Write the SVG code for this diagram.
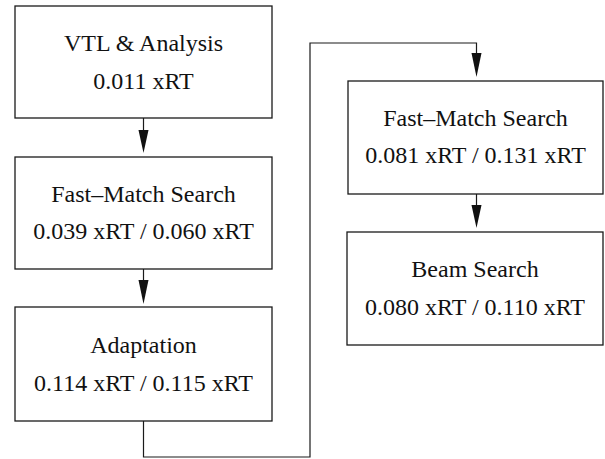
<svg xmlns="http://www.w3.org/2000/svg" width="605" height="459" viewBox="0 0 605 459">
<defs>
<style>
.box{fill:#fff;stroke:#1a1a1a;stroke-width:1.3}
.lbl{font-family:"Liberation Serif","Times New Roman",serif;font-size:24px;fill:#111;text-anchor:middle}
.con{fill:none;stroke:#1a1a1a;stroke-width:1.2}
.head{fill:#111}
</style>
</defs>
<rect width="605" height="459" fill="#fff"/>
<g id="connectors">
<path class="con" d="M143.5 118 V135"/>
<polygon class="head" points="138.5,130 148.5,130 143.5,153"/>
<path class="con" d="M143.5 269 V285"/>
<polygon class="head" points="138.5,280 148.5,280 143.5,304"/>
<path class="con" d="M143.5 421 V457 H310 V43 H476.5 V58"/>
<polygon class="head" points="471.5,53 481.5,53 476.5,77"/>
<path class="con" d="M476.5 194 V210"/>
<polygon class="head" points="471.5,205 481.5,205 476.5,228"/>
</g>
<g id="n1">
<rect class="box" x="15" y="6" width="257" height="112"/>
<text class="lbl" x="143.5" y="51">VTL &amp; Analysis</text>
<text class="lbl" x="143.5" y="89">0.011 xRT</text>
</g>
<g id="n2">
<rect class="box" x="15" y="157" width="257" height="112"/>
<text class="lbl" x="143.5" y="202">Fast–Match Search</text>
<text class="lbl" x="143.5" y="239">0.039 xRT / 0.060 xRT</text>
</g>
<g id="n3">
<rect class="box" x="15" y="307" width="257" height="114"/>
<text class="lbl" x="143.5" y="353">Adaptation</text>
<text class="lbl" x="143.5" y="391">0.114 xRT / 0.115 xRT</text>
</g>
<g id="n4">
<rect class="box" x="348" y="81" width="255" height="113"/>
<text class="lbl" x="475.5" y="126">Fast–Match Search</text>
<text class="lbl" x="475.5" y="163">0.081 xRT / 0.131 xRT</text>
</g>
<g id="n5">
<rect class="box" x="347" y="232" width="256" height="113"/>
<text class="lbl" x="475" y="277">Beam Search</text>
<text class="lbl" x="475" y="315">0.080 xRT / 0.110 xRT</text>
</g>
</svg>
